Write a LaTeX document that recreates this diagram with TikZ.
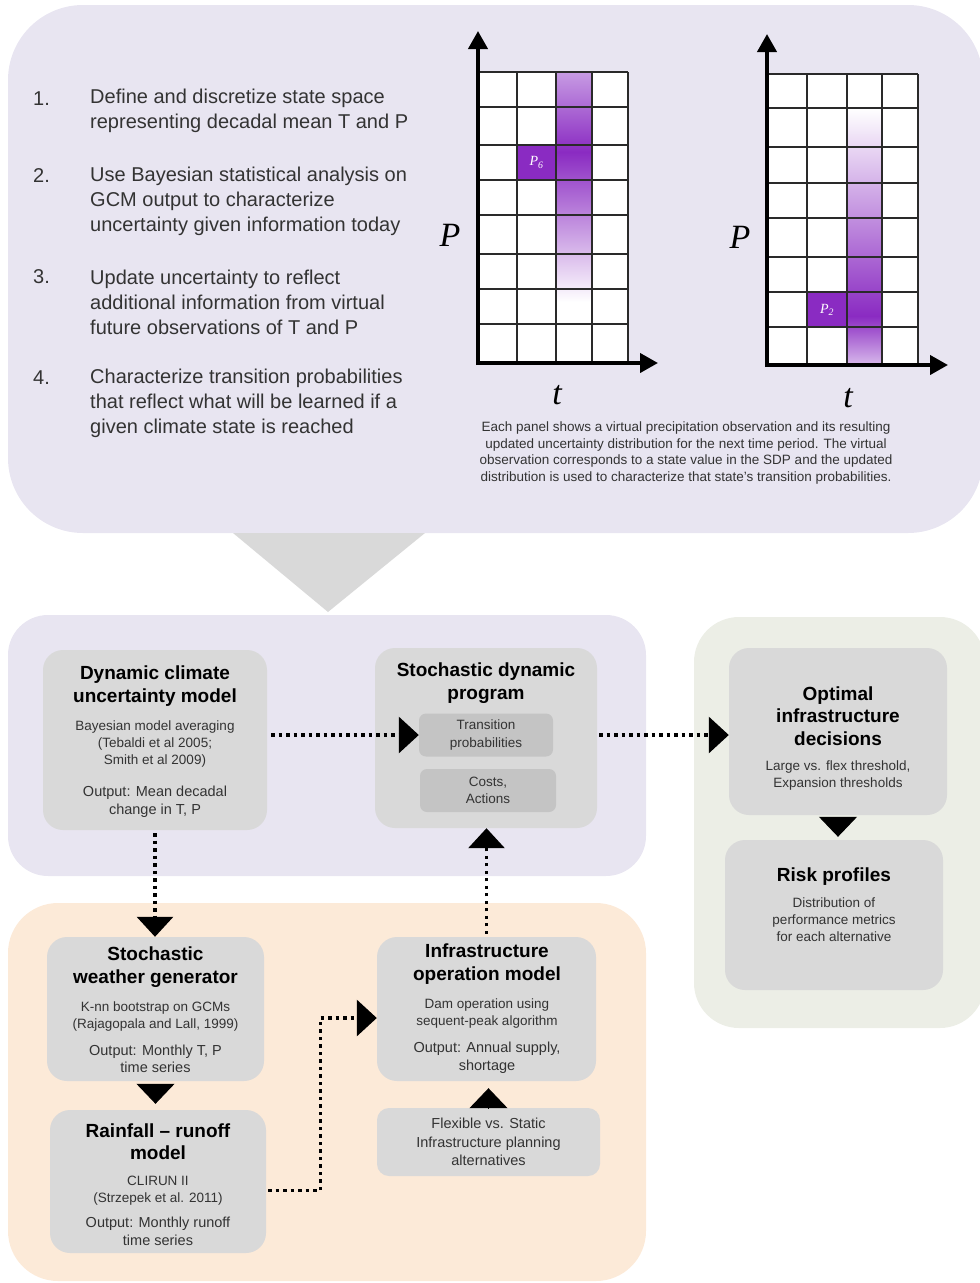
\documentclass[tikz,border=0pt]{standalone}
\usepackage{fontspec}
\setmainfont{Liberation Sans}
\newfontfamily\axisfont{Liberation Serif}
\usetikzlibrary{arrows.meta}

\definecolor{lavender}{HTML}{E8E5F1}
\definecolor{peach}{HTML}{FCEAD8}
\definecolor{sage}{HTML}{ECEEE6}
\definecolor{boxgray}{HTML}{D9D9D9}
\definecolor{innergray}{HTML}{C4C4C4}
\definecolor{pointergray}{HTML}{D9D9D9}
\definecolor{obsdark}{HTML}{8A2BC2}
\definecolor{obslight}{HTML}{C79BE3}
\definecolor{textgray}{HTML}{333333}
\definecolor{gridgray}{HTML}{2A2A2A}

\begin{document}
\begin{tikzpicture}[x=1pt, y=-1pt,
    box/.style={fill=boxgray, rounded corners=20pt, inner sep=0pt},
    subbox/.style={fill=innergray, rounded corners=7pt, inner sep=0pt, align=center,
        font=\fontsize{13.5}{17.5}\selectfont, text=textgray},
    ttl/.style={font=\fontsize{19}{22.5}\selectfont\bfseries, align=center, inner sep=0pt},
    note/.style={font=\fontsize{13.5}{17}\selectfont, text=textgray, align=center, inner sep=0pt},
    outnote/.style={font=\fontsize{14.5}{17.5}\selectfont, text=textgray, align=center, inner sep=0pt},
    stepnum/.style={font=\fontsize{20}{25}\selectfont, text=textgray, anchor=west, inner sep=0pt},
    steptext/.style={font=\fontsize{20}{25}\selectfont, text=textgray, align=left, anchor=west, inner sep=0pt},
    flow/.style={line width=3.3pt, dash pattern=on 3.3pt off 4.2pt, -{Triangle[length=20pt,width=36pt]}},
    tiponly/.style={line width=1pt, -{Triangle[length=20pt,width=38pt]}},
    gridline/.style={line width=1.2pt, draw=gridgray},
    axis/.style={line width=4pt, -{Triangle[length=18pt,width=19pt]}},
    axislabel/.style={font=\axisfont\itshape\fontsize{34}{34}\selectfont, inner sep=0pt},
    celllabel/.style={font=\axisfont\itshape\fontsize{14}{14}\selectfont, text=white, inner sep=0pt},
]
\useasboundingbox (0,0) rectangle (980,1283);
\clip (0,0) rectangle (980,1283);

% panels
\fill[lavender, rounded corners=75pt] (8,5) rectangle (983,533);
\fill[pointergray] (233,533) -- (425,533) -- (328,612) -- cycle;
\fill[lavender, rounded corners=40pt] (8,615) rectangle (646,876);
\fill[peach, rounded corners=50pt] (8,903) rectangle (646,1281);
\fill[sage, rounded corners=45pt] (694,617) rectangle (985,1028);

% steps
\node[stepnum] (n1) at (33,99) {1.};
\node[steptext] (s1) at (90,111) {Define and discretize state space\\representing decadal mean T and P};
\node[stepnum] (n2) at (33,176) {2.};
\node[steptext] (s2) at (90,201) {Use Bayesian statistical analysis on\\GCM output to characterize\\uncertainty given information today};
\node[stepnum] (n3) at (33,277) {3.};
\node[steptext] (s3) at (90,302) {Update uncertainty to reflect\\additional information from virtual\\future observations of T and P};
\node[stepnum] (n4) at (33,378) {4.};
\node[steptext] (s4) at (90,403) {Characterize transition probabilities\\that reflect what will be learned if a\\given climate state is reached};

% left panel: observation P6
\fill[white] (478,72) rectangle (628,363);
\shade[top color=obslight, bottom color=obsdark] (556,72) rectangle (592,152);
\shade[top color=obsdark, bottom color=white] (556,152) rectangle (592,302);
\fill[obsdark] (517,145) rectangle (556,180);
\node[celllabel] (p6) at (536.5,162.5) {P\textsubscript{6}};
\foreach \x in {478,517,556,592,628}
    \draw[gridline] (\x,72) -- (\x,363);
\foreach \y in {72,107,145,180,215,254,289,324,363}
    \draw[gridline] (478,\y) -- (628,\y);
\coordinate (o1) at (478,363);
\coordinate (ptop1) at (478,31);
\coordinate (tend1) at (658,363);
\draw[axis] ([yshift=-2pt]o1) -- (ptop1);
\draw[axis] ([xshift=-2pt]o1) -- (tend1);
\node[axislabel] (plab1) at (450,235) {P};
\node[axislabel] (tlab1) at (557,395) {t};

% right panel: observation P2
\fill[white] (767,74) rectangle (918,365);
\shade[top color=white, bottom color=obsdark] (847,108) rectangle (882,316);
\shade[top color=obsdark, bottom color=obslight!70] (847,316) rectangle (882,365);
\fill[obsdark] (807,292) rectangle (847,327);
\node[celllabel] (p2) at (827,309.5) {P\textsubscript{2}};
\foreach \x in {767,807,847,882,918}
    \draw[gridline] (\x,74) -- (\x,365);
\foreach \y in {74,108,147,183,218,257,292,327,365}
    \draw[gridline] (767,\y) -- (918,\y);
\coordinate (o2) at (767,365);
\coordinate (ptop2) at (767,34);
\coordinate (tend2) at (948,365);
\draw[axis] ([yshift=-2pt]o2) -- (ptop2);
\draw[axis] ([xshift=-2pt]o2) -- (tend2);
\node[axislabel] (plab2) at (740,237) {P};
\node[axislabel] (tlab2) at (848,398) {t};

\node[note, font=\fontsize{13.5}{16.6}\selectfont] (caption) at (686,453)
    {Each panel shows a virtual precipitation observation and its resulting\\
     updated uncertainty distribution for the next time period. The virtual\\
     observation corresponds to a state value in the SDP and the updated\\
     distribution is used to characterize that state’s transition probabilities.};

% climate model
\node[box, minimum width=224pt, minimum height=180pt] (dyn) at (155,740) {};
\node[ttl] (dynT) at (155,686) {Dynamic climate\\uncertainty model};
\node[note] (dynB) at (155,744) {Bayesian model averaging\\(Tebaldi et al 2005;\\Smith et al 2009)};
\node[outnote] (dynO) at (155,801.5) {Output: Mean decadal\\change in T, P};

% stochastic dynamic program
\node[box, minimum width=222pt, minimum height=180pt] (sdp) at (486,738) {};
\node[ttl] (sdpT) at (486,683) {Stochastic dynamic\\program};
\node[subbox, minimum width=134pt, minimum height=43pt] (trans) at (486,735) {Transition\\probabilities};
\node[subbox, minimum width=136pt, minimum height=43pt] (costs) at (488,790.5) {Costs,\\Actions};

% decisions
\node[box, minimum width=218pt, minimum height=167pt] (opt) at (838,731.5) {};
\node[ttl] (optT) at (838,716) {Optimal\\infrastructure\\decisions};
\node[note] (optB) at (838,775.5) {Large vs. flex threshold,\\Expansion thresholds};
\node[box, minimum width=218pt, minimum height=150pt] (risk) at (834,915) {};
\node[ttl] (riskT) at (834,877) {Risk profiles};
\node[note] (riskB) at (834,920) {Distribution of\\performance metrics\\for each alternative};

% weather generator and runoff
\node[box, minimum width=217pt, minimum height=144pt] (weather) at (155.5,1009) {};
\node[ttl] (weatherT) at (155.5,967) {Stochastic\\weather generator};
\node[note] (weatherB) at (155.5,1016.5) {K-nn bootstrap on GCMs\\(Rajagopala and Lall, 1999)};
\node[outnote] (weatherO) at (155.5,1059) {Output: Monthly T, P\\time series};
\node[box, minimum width=216pt, minimum height=143pt] (rain) at (158,1181.5) {};
\node[ttl] (rainT) at (158,1141.5) {Rainfall -- runoff\\model};
\node[note] (rainB) at (158,1191) {CLIRUN II\\(Strzepek et al. 2011)};
\node[outnote] (rainO) at (158,1231.5) {Output: Monthly runoff\\time series};

% operation model
\node[box, minimum width=219pt, minimum height=144pt] (infra) at (486.5,1009) {};
\node[ttl] (infraT) at (487,964) {Infrastructure\\operation model};
\node[note] (infraB) at (487,1013.5) {Dam operation using\\sequent-peak algorithm};
\node[outnote] (infraO) at (487,1057.5) {Output: Annual supply,\\shortage};
\node[box, rounded corners=12pt, minimum width=223pt, minimum height=68pt, align=center,
    font=\fontsize{14.5}{18.5}\selectfont, text=textgray] (flex) at (488.5,1142)
    {Flexible vs. Static\\Infrastructure planning\\alternatives};

% connectors
\draw[flow, shorten <=4pt] (dyn.east |- trans.west) -- (trans.west);
\draw[flow, shorten <=2pt] (sdp.east |- trans.west) -- (opt.west |- trans.west);
\draw[flow, shorten <=3pt] (dyn.south) -- (dyn.south |- weather.north);
\draw[flow, shorten <=3pt] (infra.north) -- (infra.north |- sdp.south);
\draw[flow, shorten <=2pt] ([yshift=-9pt]rain.east) -- ++(54,0) |- ([yshift=-9pt]infra.west);
\draw[tiponly, shorten <=3pt, shorten >=6pt] (weather.south) -- (weather.south |- rain.north);
\draw[tiponly, shorten <=2pt, shorten >=3pt] (opt.south) -- (opt.south |- risk.north);
\draw[tiponly, shorten >=7pt] (flex.north) -- (flex.north |- infra.south);
\end{tikzpicture}
\end{document}
